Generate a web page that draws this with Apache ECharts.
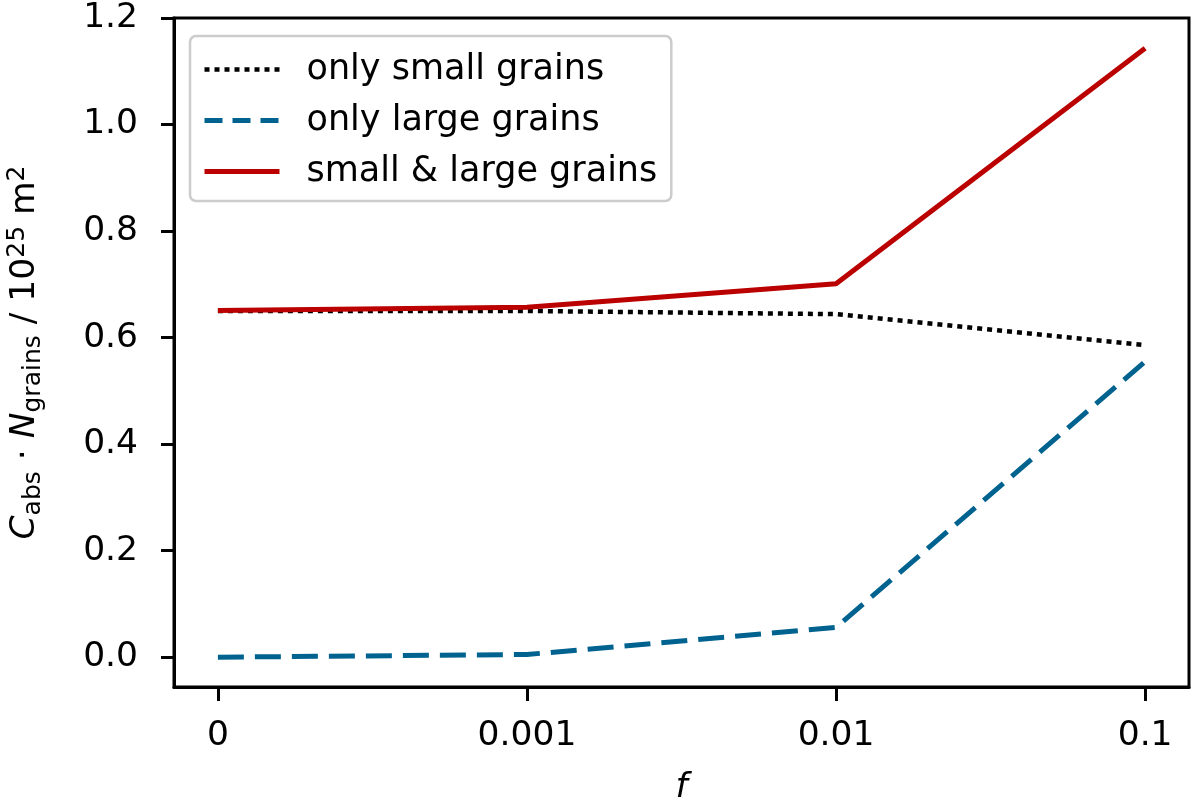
<!DOCTYPE html>
<html>
<head>
    <meta charset="utf-8">
    <script src="https://cdn.jsdelivr.net/npm/echarts@6/dist/echarts.min.js"></script>
    <style>
        html, body { margin: 0; padding: 0; background: #fff; }
    </style>
</head>
<body>
    <div id="main" style="width: 1200px;height:805px;"></div>
    <script type="text/javascript">
        // f values (shown as equally spaced categories)
        var fLabels = ['0', '0.001', '0.01', '0.1'];
        var smallOnly = [0.650, 0.650, 0.644, 0.586];
        var largeOnly = [0.000, 0.005, 0.056, 0.555];
        var smallLarge = [0.651, 0.657, 0.701, 1.143];
        var yTicks = [0, 0.2, 0.4, 0.6, 0.8, 1.0, 1.2];

        function pts(arr) {
            return arr.map(function (v, i) { return [i, v]; });
        }

        var font = 'DejaVu Sans';
        var fs = 34.5;

        var styleSmall = {color: '#000', width: 4.5, type: [5, 5]};
        var styleLarge = {color: '#00628f', width: 5, type: [26, 11]};
        var styleBoth = {color: '#bb0000', width: 5, type: 'solid'};

        option = {
            animation: false,
            grid: {
                left: 174,
                right: 11,
                top: 18,
                bottom: 118,
                outerBoundsMode: 'none',
                containLabel: false,
                show: true,
                borderColor: '#000',
                borderWidth: 3,
                backgroundColor: 'transparent'
            },
            legend: {
                left: 190,
                top: 36,
                orient: 'vertical',
                itemWidth: 75,
                itemHeight: 14,
                itemGap: 16,
                padding: [16, 14, 12, 12],
                borderColor: '#cccccc',
                borderWidth: 2.5,
                borderRadius: 6,
                backgroundColor: '#fff',
                itemStyle: {opacity: 0},
                textStyle: {
                    fontFamily: font,
                    fontSize: 35,
                    color: '#000',
                    padding: [0, 0, 0, 22]
                },
                data: [
                    {name: 'only small grains', lineStyle: styleSmall},
                    {name: 'only large grains', lineStyle: {color: '#00628f', width: 5, type: [18, 10]}},
                    {name: 'small & large grains', lineStyle: styleBoth}
                ]
            },
            xAxis: {
                type: 'value',
                min: -0.142,
                max: 3.142,
                name: 'f',
                nameLocation: 'middle',
                nameGap: 84,
                nameTextStyle: {fontFamily: font, fontSize: fs, fontStyle: 'italic', color: '#000'},
                axisLine: {show: true, onZero: false, lineStyle: {color: '#000', width: 3}},
                splitLine: {show: false},
                axisTick: {
                    show: true,
                    length: 14,
                    lineStyle: {color: '#000', width: 3},
                    customValues: [0, 1, 2, 3]
                },
                axisLabel: {
                    customValues: [0, 1, 2, 3],
                    margin: 32,
                    fontFamily: font,
                    fontSize: fs,
                    color: '#000',
                    formatter: function (v) { return fLabels[Math.round(v)]; }
                }
            },
            yAxis: {
                type: 'value',
                min: -0.056,
                max: 1.2,
                name: '{i|C}{s|abs} · {i|N}{s|grains} / 10{u|25} m{u|2}',
                nameLocation: 'middle',
                nameGap: 128,
                nameRotate: 90,
                nameTextStyle: {
                    fontFamily: font,
                    fontSize: fs,
                    color: '#000',
                    rich: {
                        i: {fontFamily: font, fontSize: fs, fontStyle: 'italic', color: '#000'},
                        s: {fontFamily: font, fontSize: 25, color: '#000', padding: [16, 0, 0, 0]},
                        u: {fontFamily: font, fontSize: 25, color: '#000', padding: [0, 0, 16, 0]}
                    }
                },
                axisLine: {show: true, onZero: false, lineStyle: {color: '#000', width: 3}},
                splitLine: {show: false},
                axisTick: {
                    show: true,
                    length: 13,
                    lineStyle: {color: '#000', width: 3},
                    customValues: yTicks
                },
                axisLabel: {
                    customValues: yTicks,
                    margin: 36,
                    fontFamily: font,
                    fontSize: fs,
                    color: '#000',
                    formatter: function (v) { return v.toFixed(1); }
                }
            },
            series: [
                {
                    name: 'only small grains',
                    type: 'line',
                    symbol: 'none',
                    lineStyle: styleSmall,
                    itemStyle: {color: '#000'},
                    data: pts(smallOnly)
                },
                {
                    name: 'only large grains',
                    type: 'line',
                    symbol: 'none',
                    lineStyle: styleLarge,
                    itemStyle: {color: '#00628f'},
                    data: pts(largeOnly)
                },
                {
                    name: 'small & large grains',
                    type: 'line',
                    symbol: 'none',
                    lineStyle: styleBoth,
                    itemStyle: {color: '#bb0000'},
                    data: pts(smallLarge)
                }
            ]
        };

        var myChart = echarts.init(document.getElementById('main'));
        myChart.setOption(option);
    </script>
</body>
</html>
